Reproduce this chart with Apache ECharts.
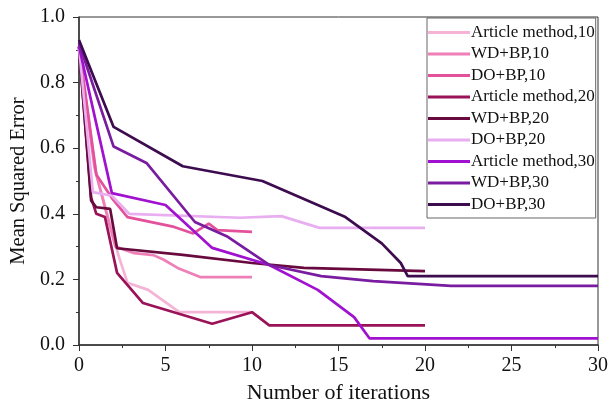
<!DOCTYPE html>
<html><head><meta charset="utf-8">
<script src="https://cdn.jsdelivr.net/npm/echarts@6/dist/echarts.min.js"></script>
<style>html,body{margin:0;padding:0;background:#fff}#c{width:611px;height:405px}</style>
</head><body><div id="c"></div>
<script>
const seriesNames = ["Article method,10","WD+BP,10","DO+BP,10","Article method,20","WD+BP,20","DO+BP,20","Article method,30","WD+BP,30","DO+BP,30"];
const xTicks = [0,5,10,15,20,25,30];
const yTicks = [0.0,0.2,0.4,0.6,0.8,1.0];

const am10X = [0, 1, 2.3, 2.8, 4, 5.8, 10];
const am10Y = [0.90, 0.52, 0.27, 0.19, 0.168, 0.10, 0.10];
const wd10X = [0, 0.9, 2.1, 3.2, 4.3, 4.9, 5.7, 7, 10];
const wd10Y = [0.90, 0.54, 0.30, 0.28, 0.274, 0.26, 0.235, 0.207, 0.207];
const do10X = [0, 1, 1.9, 2.8, 5.5, 6.6, 7.5, 8, 10];
const do10Y = [0.91, 0.52, 0.448, 0.39, 0.36, 0.34, 0.37, 0.35, 0.345];
const am20X = [0, 0.7, 1, 1.5, 2.2, 3.7, 7.7, 10, 11, 20];
const am20Y = [0.91, 0.45, 0.40, 0.39, 0.22, 0.128, 0.065, 0.10, 0.06, 0.06];
const wd20X = [0, 0.7, 1, 1.8, 2.2, 6, 10, 13, 20];
const wd20Y = [0.91, 0.44, 0.42, 0.415, 0.295, 0.275, 0.25, 0.235, 0.225];
const do20X = [0, 0.8, 1.9, 2.9, 9.3, 11.7, 13.9, 20];
const do20Y = [0.91, 0.466, 0.455, 0.40, 0.388, 0.393, 0.357, 0.357];
const am30X = [0, 1.9, 5, 7.7, 11, 13.8, 15.9, 16.8, 30];
const am30Y = [0.91, 0.463, 0.427, 0.296, 0.244, 0.168, 0.085, 0.02, 0.02];
const wd30X = [0, 2, 3.9, 6.7, 8.6, 11, 14, 17, 21.5, 30];
const wd30Y = [0.92, 0.605, 0.555, 0.375, 0.33, 0.244, 0.21, 0.195, 0.18, 0.18];
const do30X = [0, 2, 6, 10.6, 15.4, 17.5, 18.6, 19, 30];
const do30Y = [0.93, 0.665, 0.545, 0.50, 0.39, 0.31, 0.25, 0.21, 0.21];

const allX = [am10X, wd10X, do10X, am20X, wd20X, do20X, am30X, wd30X, do30X];
const allY = [am10Y, wd10Y, do10Y, am20Y, wd20Y, do20Y, am30Y, wd30Y, do30Y];
const colors = ['#f5b3d5','#ef7fb7','#e4519b','#9a1257','#680a3d','#e8aef0','#a012cf','#7a1ca0','#3d0c4f'];

const font = '"Liberation Serif","Times New Roman",serif';
const chart = echarts.init(document.getElementById('c'));
chart.setOption({
  animation: false,
  color: colors,
  grid: {left: 79, right: 13, top: 17, bottom: 60, show: true, borderColor: '#333', borderWidth: 1, outerBoundsMode: 'none', containLabel: false},
  legend: {
    orient: 'vertical', left: 427, top: 18,
    data: seriesNames,
    icon: 'rect',
    itemWidth: 42, itemHeight: 3, itemGap: 4.5,
    padding: [6, 1, 5, 1],
    borderColor: '#666', borderWidth: 1, backgroundColor: '#fff',
    textStyle: {fontFamily: font, fontSize: 17, lineHeight: 17, color: '#111', padding: [0,0,0,-4]}
  },
  xAxis: {
    type: 'value', min: 0, max: 30, interval: 5,
    name: 'Number of iterations', nameLocation: 'middle', nameGap: 37,
    nameTextStyle: {fontFamily: font, fontSize: 22, color: '#111'},
    axisLine: {onZero: false, lineStyle: {color: '#333', width: 1.5}},
    axisTick: {length: 6, lineStyle: {color: '#333'}},
    minorTick: {show: true, splitNumber: 2, length: 3, lineStyle: {color: '#333'}},
    splitLine: {show: false},
    axisLabel: {fontFamily: font, fontSize: 20, color: '#111', margin: 11,
      formatter: v => xTicks.includes(v) ? String(v) : ''}
  },
  yAxis: {
    type: 'value', min: 0, max: 1, interval: 0.2,
    name: 'Mean Squared Error', nameLocation: 'middle', nameGap: 50,
    nameTextStyle: {fontFamily: font, fontSize: 20.5, color: '#111'},
    axisLine: {show: true, onZero: false, lineStyle: {color: '#333', width: 1.5}},
    axisTick: {show: true, length: 6, lineStyle: {color: '#333'}},
    minorTick: {show: true, splitNumber: 2, length: 3, lineStyle: {color: '#333'}},
    splitLine: {show: false},
    axisLabel: {fontFamily: font, fontSize: 20, color: '#111', margin: 14,
      formatter: v => { const t = yTicks.find(k => Math.abs(k - v) < 1e-6); return t === undefined ? '' : t.toFixed(1); }}
  },
  series: seriesNames.map((n, i) => ({
    name: n, type: 'line', symbol: 'none',
    lineStyle: {width: 2.7, color: colors[i]},
    itemStyle: {color: colors[i]},
    data: allX[i].map((x, j) => [x, allY[i][j]])
  }))
});
</script></body></html>
